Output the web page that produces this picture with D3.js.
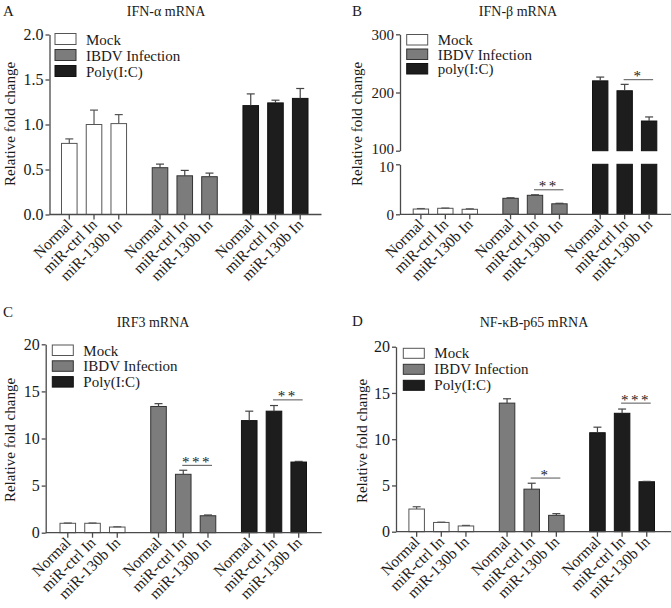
<!DOCTYPE html>
<html>
<head>
<meta charset="utf-8">
<script src="https://cdn.jsdelivr.net/npm/d3@7"></script>
<style>
  html, body { margin: 0; padding: 0; background: #fff; }
  svg { display: block; }
  text { font-family: "Liberation Serif", "Times New Roman", serif; fill: #1a1a1a; }
</style>
</head>
<body>
<svg id="chart" width="671" height="608"></svg>
<script>
// ---------------- DATA ----------------
const groups = ["Mock", "IBDV Infection", "Poly(I:C)"];
const groupsB = ["Mock", "IBDV Infection", "poly(I:C)"];
const conditions = ["Normal", "miR-ctrl In", "miR-130b In"];

// IFN-α mRNA (A)
const ifnaMean = [[0.79, 1.00, 1.01], [0.52, 0.43, 0.42], [1.21, 1.24, 1.29]];
const ifnaSD   = [[0.05, 0.16, 0.10], [0.04, 0.06, 0.04], [0.13, 0.03, 0.11]];
const ifnaTicks = [0, 0.5, 1.0, 1.5, 2.0];

// IFN-β mRNA (B) – broken axis
const ifnbMean = [[1.05, 1.2, 1.0], [3.2, 3.8, 2.1], [220, 203, 151]];
const ifnbSD   = [[0.1, 0.05, 0.1], [0.1, 0.1, 0.1], [6.5, 11, 7]];
const ifnbTicksLow = [0, 10];
const ifnbTicksHigh = [100, 200, 300];

// IRF3 mRNA (C)
const irf3Mean = [[1.0, 1.0, 0.6], [13.4, 6.2, 1.8], [11.9, 12.9, 7.5]];
const irf3SD   = [[0.03, 0.03, 0.03], [0.3, 0.43, 0.08], [1.0, 0.6, 0.07]];

// NF-κB-p65 mRNA (D)
const nfkbMean = [[2.45, 1.0, 0.62], [13.9, 4.6, 1.77], [10.7, 12.8, 5.4]];
const nfkbSD   = [[0.25, 0.03, 0.06], [0.47, 0.64, 0.18], [0.6, 0.46, 0.04]];
const ticks20 = [0, 5, 10, 15, 20];

// significance annotations: group index, label, bracket height (data units); spans miR-ctrl In -> miR-130b In
const sigA = [];
const sigB = [{ group: 1, label: "**", y: 4.9 }, { group: 2, label: "*", y: 222 }];
const sigC = [{ group: 1, label: "***", y: 7.15 }, { group: 2, label: "**", y: 14.1 }];
const sigD = [{ group: 1, label: "*", y: 5.8 }, { group: 2, label: "***", y: 13.9 }];

// ---------------- STYLE ----------------
const fills   = ["#ffffff", "#7c7c7c", "#1d1d1d"];
const strokes = ["#555555", "#333333", "#111111"];
const axisColor = "#4a4a4a";

const svg = d3.select("#chart");

function drawPanel(cfg) {
  const g = svg.append("g");
  const x0 = cfg.x0, yb = cfg.yBottom;

  // x scales
  const gx = d3.scaleBand().domain(d3.range(3))
    .range([x0 + cfg.xStart, x0 + cfg.xEnd]).paddingInner(0.272).paddingOuter(0);
  const bx = d3.scaleBand().domain(d3.range(3))
    .range([0, gx.bandwidth()]).paddingInner(0.33).paddingOuter(0);
  const cx = (gi, ci) => gx(gi) + bx(ci) + bx.bandwidth() / 2;

  // y segments
  const segs = cfg.segments.map(s => ({
    domain: s.domain,
    scale: d3.scaleLinear().domain(s.domain).range(s.range),
    ticks: s.ticks,
    dy: s.dy || 0
  }));
  const segFor = v => segs.find(s => v >= s.domain[0] && v <= s.domain[1]) || segs[segs.length - 1];

  // bars
  cfg.mean.forEach((row, gi) => {
    row.forEach((v, ci) => {
      const left = gx(gi) + bx(ci), w = bx.bandwidth();
      segs.forEach(s => {
        if (v > s.domain[0]) {
          const top = s.scale(Math.min(v, s.domain[1]));
          const bot = s.scale(s.domain[0]);
          g.append("rect")
            .attr("x", left + 0.5).attr("y", top)
            .attr("width", w - 1).attr("height", Math.max(0, bot - top))
            .attr("fill", fills[gi]).attr("stroke", strokes[gi]).attr("stroke-width", 1);
        }
      });
      // error bar (upper only)
      const sd = cfg.sd[gi][ci];
      const s = segFor(v);
      const yTop = s.scale(v + sd), yMean = s.scale(v);
      const c = cx(gi, ci);
      const ec = gi === 0 ? "#555" : "#444";
      g.append("line").attr("x1", c).attr("x2", c).attr("y1", yMean).attr("y2", yTop)
        .attr("stroke", ec).attr("stroke-width", 1.2);
      g.append("line").attr("x1", c - 4).attr("x2", c + 4).attr("y1", yTop).attr("y2", yTop)
        .attr("stroke", ec).attr("stroke-width", 1.2);
    });
  });

  // y axis
  segs.forEach(s => {
    const ax = g.append("g").attr("transform", `translate(${x0},0)`)
      .call(d3.axisLeft(s.scale).tickValues(s.ticks).tickSize(4).tickSizeOuter(0).tickPadding(2)
        .tickFormat(cfg.fmt));
    ax.select(".domain").attr("stroke", axisColor).attr("stroke-width", 1.3);
    ax.selectAll(".tick line").attr("stroke", axisColor).attr("stroke-width", 1.3);
    ax.selectAll(".tick text").attr("font-size", cfg.tickFont || 16).attr("fill", "#2a2a2a")
      .style("font-family", "'Liberation Serif', serif");
    if (s.dy) {
      ax.selectAll(".tick text").filter(d => d === s.domain[0] || d === s.domain[1])
        .attr("y", function(d) {
          const edgeLow = d === s.domain[0] && s.dy < 0;
          const edgeHigh = d === s.domain[1] && s.dy > 0;
          return (edgeLow || edgeHigh) ? s.dy : 0;
        });
    }
  });

  // x axis
  g.append("line").attr("x1", x0).attr("x2", x0 + cfg.axisEnd).attr("y1", yb).attr("y2", yb)
    .attr("stroke", axisColor).attr("stroke-width", 1.3);
  d3.range(3).forEach(gi => d3.range(3).forEach(ci => {
    const c = cx(gi, ci);
    g.append("line").attr("x1", c).attr("x2", c).attr("y1", yb).attr("y2", yb + 5)
      .attr("stroke", axisColor).attr("stroke-width", 1.3);
    g.append("text").attr("transform", `translate(${c + 4},${yb + 11}) rotate(-45)`)
      .attr("text-anchor", "end").attr("font-size", 15.5).attr("fill", "#2a2a2a")
      .text(conditions[ci]);
  }));

  // significance
  cfg.sig.forEach(sg => {
    const s = segFor(sg.y);
    const y = s.scale(sg.y);
    const xa = cx(sg.group, 1) - 1, xb = cx(sg.group, 2) + 4;
    g.append("line").attr("x1", xa).attr("x2", xb).attr("y1", y).attr("y2", y)
      .attr("stroke", "#555").attr("stroke-width", 1);
    g.append("text").attr("x", (xa + xb) / 2).attr("y", y + 1.5)
      .attr("text-anchor", "middle").attr("font-size", 15).attr("fill", "#555")
      .attr("letter-spacing", 2.5).text(sg.label);
  });

  // legend
  cfg.legend.forEach((name, i) => {
    const y = cfg.legY + i * cfg.legStep;
    g.append("rect").attr("x", x0 + cfg.legDx).attr("y", y)
      .attr("width", 21).attr("height", cfg.legH)
      .attr("fill", fills[i]).attr("stroke", strokes[i]).attr("stroke-width", 1);
    g.append("text").attr("x", x0 + cfg.legDx + 31).attr("y", y + cfg.legH)
      .attr("font-size", 15).attr("fill", "#2a2a2a").text(name);
  });

  // title & letter
  g.append("text").attr("x", cfg.titleX).attr("y", cfg.titleY).attr("text-anchor", "middle")
    .attr("font-size", 14).text(cfg.title);
  g.append("text").attr("x", cfg.letterX).attr("y", cfg.letterY)
    .attr("font-size", 15).text(cfg.letter);

  // y label
  g.append("text").attr("transform", `translate(${cfg.ylabX},${cfg.ylabY}) rotate(-90)`)
    .attr("text-anchor", "middle").attr("font-size", 15).attr("fill", "#2a2a2a")
    .text("Relative fold change");
}

const fmt1 = d3.format(".1f");
const fmt0 = d3.format("d");

drawPanel({
  letter: "A", letterX: 3, letterY: 16, title: "IFN-\u03b1  mRNA", titleX: 166, titleY: 16,
  x0: 49.5, yBottom: 214.5, xStart: 11.5, xEnd: 259, axisEnd: 272,
  segments: [{ domain: [0, 2], range: [214.5, 34.5], ticks: ifnaTicks }], fmt: fmt1,
  mean: ifnaMean, sd: ifnaSD, sig: sigA,
  legend: groups, legDx: 5.5, legY: 33.5, legStep: 16, legH: 11,
  ylabX: 14.5, ylabY: 124
});

drawPanel({
  letter: "B", letterX: 352, letterY: 16, title: "IFN-\u03b2  mRNA", titleX: 518, titleY: 16,
  x0: 400, yBottom: 214.3, xStart: 12.7, xEnd: 257.3, axisEnd: 271, tickFont: 15,
  segments: [
    { domain: [0, 10], range: [214.3, 164.3], ticks: ifnbTicksLow, dy: 2.5 },
    { domain: [100, 300], range: [150.7, 34.3], ticks: ifnbTicksHigh, dy: -2.5 }
  ], fmt: fmt0,
  mean: ifnbMean, sd: ifnbSD, sig: sigB,
  legend: groupsB, legDx: 6.7, legY: 34.5, legStep: 14.5, legH: 10.5,
  ylabX: 362, ylabY: 124
});

drawPanel({
  letter: "C", letterX: 3, letterY: 317, title: "IRF3 mRNA", titleX: 153, titleY: 327,
  x0: 45.7, yBottom: 532.7, xStart: 13.8, xEnd: 261.3, axisEnd: 276,
  segments: [{ domain: [0, 20], range: [532.7, 344.3], ticks: ticks20 }], fmt: fmt0,
  mean: irf3Mean, sd: irf3SD, sig: sigC,
  legend: groups, legDx: 6.6, legY: 345, legStep: 15.8, legH: 10.5,
  ylabX: 14.5, ylabY: 440
});

drawPanel({
  letter: "D", letterX: 352, letterY: 326, title: "NF-\u03baB-p65 mRNA", titleX: 534, titleY: 327,
  x0: 396, yBottom: 531.7, xStart: 12.4, xEnd: 259, axisEnd: 275,
  segments: [{ domain: [0, 20], range: [531.7, 346.7], ticks: ticks20 }], fmt: fmt0,
  mean: nfkbMean, sd: nfkbSD, sig: sigD,
  legend: groups, legDx: 7.3, legY: 348.3, legStep: 16, legH: 10,
  ylabX: 367, ylabY: 441
});
</script>
</body>
</html>
